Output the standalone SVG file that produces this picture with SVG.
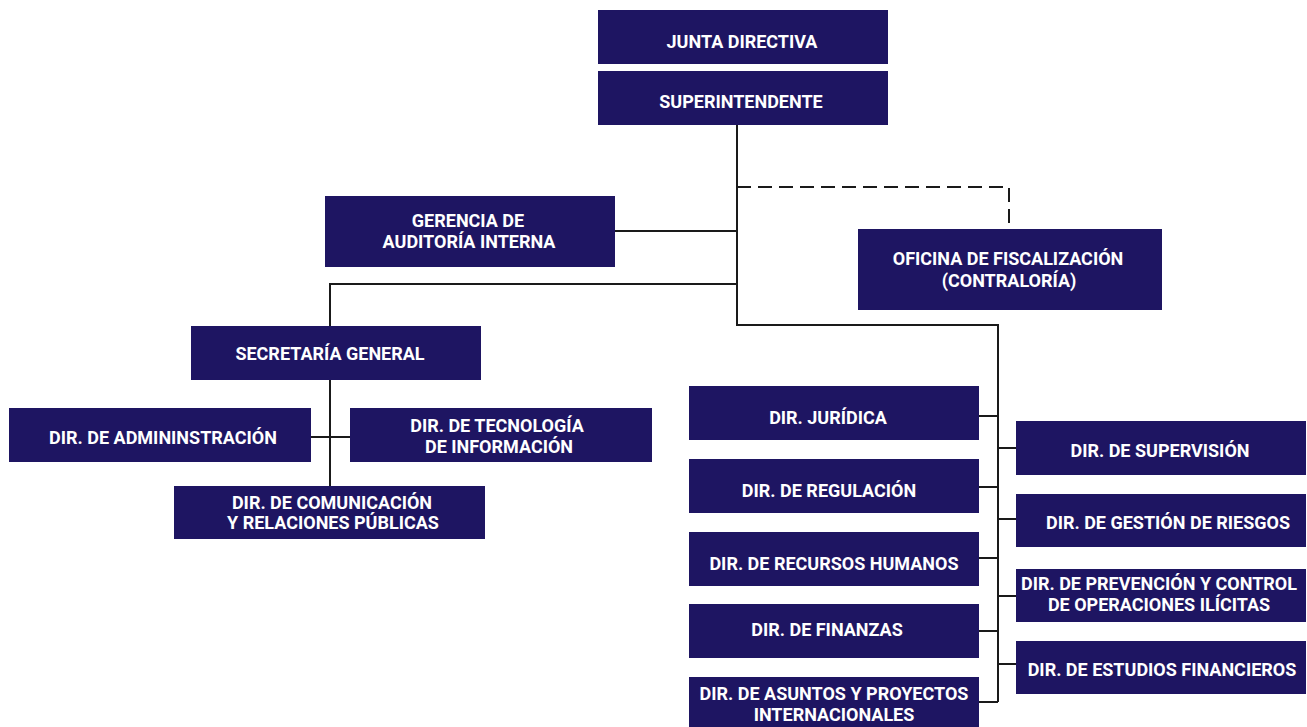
<svg xmlns="http://www.w3.org/2000/svg" width="1307" height="727" viewBox="0 0 1307 727">
<style>
.box{fill:#1e1562}
.t{fill:#ffffff;font-family:Roboto,"Liberation Sans",sans-serif;font-weight:bold;font-size:18px;text-anchor:middle}
.ln{fill:none;stroke:#1a1a1a;stroke-width:2}
.dash{fill:none;stroke:#1a1a1a;stroke-width:2;stroke-dasharray:14,7}
</style>
<rect width="1307" height="727" fill="#ffffff"/>
<g id="connectors">
<path class="ln" d="M737,125 V325 H998 V702"/>
<path class="dash" d="M737,187 H1009 V229"/>
<path class="ln" d="M615,231 H737"/>
<path class="ln" d="M737,284 H330 V326"/>
<path class="ln" d="M330,380 V486"/>
<path class="ln" d="M311,437 H350"/>
<path class="ln" d="M979,416 H998 M979,487 H998 M979,558 H998 M979,631 H998 M979,702 H998"/>
<path class="ln" d="M998,448 H1016 M998,519 H1016 M998,596 H1016 M998,664 H1016"/>
</g>
<g id="junta"><rect class="box" x="598" y="10" width="290" height="54"/><text class="t" x="742" y="48">JUNTA DIRECTIVA</text></g>
<g id="superintendente"><rect class="box" x="598" y="71" width="290" height="54"/><text class="t" x="741" y="108">SUPERINTENDENTE</text></g>
<g id="gerencia"><rect class="box" x="325" y="196" width="290" height="71"/><text class="t" x="468" y="227">GERENCIA DE</text><text class="t" x="469" y="248">AUDITORÍA INTERNA</text></g>
<g id="oficina"><rect class="box" x="858" y="229" width="304" height="81"/><text class="t" x="1008" y="265">OFICINA DE FISCALIZACIÓN</text><text class="t" x="1009" y="287">(CONTRALORÍA)</text></g>
<g id="secretaria"><rect class="box" x="191" y="326" width="290" height="54"/><text class="t" x="330" y="360">SECRETARÍA GENERAL</text></g>
<g id="administracion"><rect class="box" x="9" y="408" width="302" height="54"/><text class="t" x="163" y="444">DIR. DE ADMININSTRACIÓN</text></g>
<g id="tecnologia"><rect class="box" x="350" y="408" width="302" height="54"/><text class="t" x="497" y="432">DIR. DE TECNOLOGÍA</text><text class="t" x="499" y="453">DE INFORMACIÓN</text></g>
<g id="comunicacion"><rect class="box" x="174" y="486" width="311" height="53"/><text class="t" x="332" y="509">DIR. DE COMUNICACIÓN</text><text class="t" x="333" y="529">Y RELACIONES PÚBLICAS</text></g>
<g id="juridica"><rect class="box" x="689" y="386" width="290" height="54"/><text class="t" x="828" y="424">DIR. JURÍDICA</text></g>
<g id="regulacion"><rect class="box" x="689" y="459" width="290" height="54"/><text class="t" x="829" y="497">DIR. DE REGULACIÓN</text></g>
<g id="rrhh"><rect class="box" x="689" y="532" width="290" height="54"/><text class="t" x="834" y="570">DIR. DE RECURSOS HUMANOS</text></g>
<g id="finanzas"><rect class="box" x="689" y="604" width="290" height="54"/><text class="t" x="827" y="636">DIR. DE FINANZAS</text></g>
<g id="asuntos"><rect class="box" x="689" y="677" width="290" height="52"/><text class="t" x="834" y="700">DIR. DE ASUNTOS Y PROYECTOS</text><text class="t" x="834" y="721">INTERNACIONALES</text></g>
<g id="supervision"><rect class="box" x="1016" y="421" width="290" height="54"/><text class="t" x="1160" y="457">DIR. DE SUPERVISIÓN</text></g>
<g id="riesgos"><rect class="box" x="1016" y="494" width="290" height="53"/><text class="t" x="1168" y="529">DIR. DE GESTIÓN DE RIESGOS</text></g>
<g id="prevencion"><rect class="box" x="1016" y="569" width="290" height="53"/><text class="t" x="1159" y="590">DIR. DE PREVENCIÓN Y CONTROL</text><text class="t" x="1159" y="611">DE OPERACIONES ILÍCITAS</text></g>
<g id="estudios"><rect class="box" x="1016" y="641" width="290" height="53"/><text class="t" x="1162" y="676">DIR. DE ESTUDIOS FINANCIEROS</text></g>
</svg>
